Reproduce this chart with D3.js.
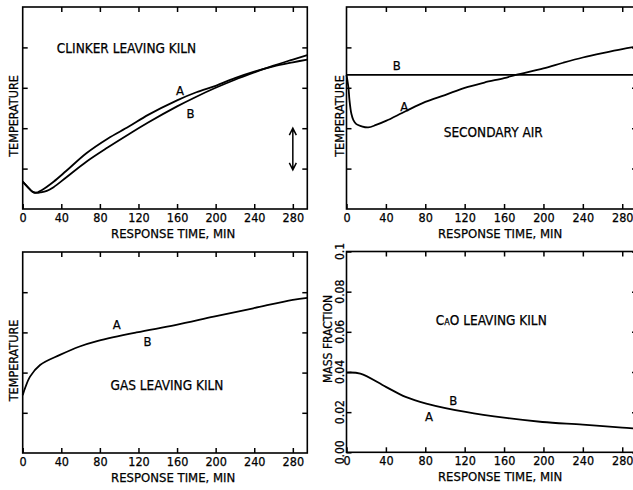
<!DOCTYPE html>
<html>
<head>
<meta charset="utf-8">
<script src="https://cdn.jsdelivr.net/npm/d3@7"></script>
<style>
  body { margin: 0; background: #fff; }
  text { font-family: "DejaVu Sans Condensed", "DejaVu Sans", sans-serif; font-stretch: condensed; fill: #000; stroke: #000; stroke-width: 0.25; }
  .num { font-family: "Liberation Sans Narrow", "DejaVu Sans Condensed", sans-serif; }
</style>
</head>
<body>
<div id="chart"></div>
<script>
// values (temperature panels are in tick units, no numbers shown)
var timeTicks = [0, 40, 80, 120, 160, 200, 240, 280];

var clinkerTimeA = [0, 5, 10, 13, 20, 32, 45, 66, 88, 110, 130, 160, 180, 200, 220, 240, 260, 280, 295];
var clinkerA     = [0.68, 0.55, 0.43, 0.40, 0.47, 0.675, 0.94, 1.38, 1.74, 2.04, 2.33, 2.69, 2.89, 3.05, 3.24, 3.40, 3.53, 3.63, 3.70];
var clinkerTimeB = [0, 5, 10, 15, 18, 25, 32, 45, 66, 88, 110, 130, 160, 180, 200, 220, 240, 260, 280, 295];
var clinkerB     = [0.68, 0.55, 0.43, 0.40, 0.41, 0.45, 0.54, 0.78, 1.17, 1.52, 1.85, 2.14, 2.54, 2.78, 3.00, 3.20, 3.38, 3.55, 3.70, 3.81];

var airTimeA = [0, 2, 3, 5, 7, 10, 15, 22, 30, 40, 60, 80, 100, 120, 140, 160, 172, 200, 220, 240, 260, 280, 295];
var airA     = [3.32, 3.0, 2.7, 2.35, 2.2, 2.10, 2.05, 2.02, 2.08, 2.18, 2.42, 2.65, 2.82, 3.0, 3.13, 3.24, 3.32, 3.48, 3.62, 3.75, 3.86, 3.96, 4.02];
var airTimeB = [0, 295];
var airB     = [3.32, 3.32];

var gasTime = [0, 2.4, 7.6, 18, 38.6, 59, 78, 118, 158, 198, 239, 280, 295];
var gasA    = [1.44, 1.61, 1.90, 2.19, 2.44, 2.65, 2.79, 3.00, 3.18, 3.39, 3.60, 3.81, 3.86];

var caoTime = [0, 14, 40, 60, 81, 121, 162, 199, 240, 280, 295];
var caoA    = [0.0397, 0.0392, 0.0326, 0.0276, 0.0243, 0.0201, 0.0171, 0.0151, 0.0138, 0.0123, 0.0118];
var caoTicks = [0, 0.02, 0.04, 0.06, 0.08, 0.1];
var caoTickLabels = ["0.00", "0.02", "0.04", "0.06", "0.08", "0.1"];

var width = 633, height = 490;

var svg = d3.select("#chart").append("svg")
  .attr("width", width)
  .attr("height", height);

function zip(t, v) { return t.map(function(d, i) { return [d, v[i]]; }); }

var panels = [
  { x0: 22.7, x1: 307.3, y0: 7, y1: 209, ymax: 5, yTicks: [1, 2, 3, 4],
    series: [zip(clinkerTimeA, clinkerA), zip(clinkerTimeB, clinkerB)],
    title: "CLINKER LEAVING KILN", titleAt: [107.6, 3.98],
    labels: [["A", 163, 2.94], ["B", 174, 2.37]], arrow: [280, 2.0, 0.97], yLabel: 13 },
  { x0: 346.5, x1: 637, y0: 7, y1: 209, ymax: 5, yTicks: [1, 2, 3, 4],
    series: [zip(airTimeA, airA), zip(airTimeB, airB)],
    title: "SECONDARY AIR", titleAt: [149, 1.91],
    labels: [["B", 51, 3.55], ["A", 58.7, 2.55]], yLabel: 339 },
  { x0: 22.7, x1: 307.3, y0: 252, y1: 453, ymax: 5, yTicks: [1, 2, 3, 4],
    series: [zip(gasTime, gasA)],
    title: "GAS LEAVING KILN", titleAt: [149.5, 1.69],
    labels: [["A", 97.4, 3.2], ["B", 129.5, 2.77]], yLabel: 13 },
  { x0: 346.5, x1: 637, y0: 251.5, y1: 452.3, ymax: 0.1, yTicks: caoTicks,
    series: [zip(caoTime, caoA)],
    title: "CAO", titleAt: [147, 0.066], cao: true,
    labels: [["B", 108.4, 0.0261], ["A", 83.8, 0.0181]] }
];

panels.forEach(function(p) {
  var x = d3.scaleLinear().domain([0, 295]).range([p.x0, p.x1]);
  var y = d3.scaleLinear().domain([0, p.ymax]).range([p.y1, p.y0]);
  var g = svg.append("g");

  // inward ticks on all four sides
  g.append("g").attr("transform", "translate(0," + p.y1 + ")")
    .call(d3.axisBottom(x).tickValues(timeTicks).tickSize(-5).tickPadding(4).tickFormat(d3.format("d")))
    .call(function(a) {
      a.select(".domain").remove();
      a.selectAll("line").attr("stroke", "#000").attr("stroke-width", 1.5);
      a.selectAll("text").attr("class", "num").attr("font-size", 12.5).attr("fill", "#000");
    });
  g.append("g").attr("transform", "translate(0," + p.y0 + ")")
    .call(d3.axisTop(x).tickValues(timeTicks.slice(1)).tickSize(-5).tickFormat(""))
    .call(function(a) { a.select(".domain").remove(); a.selectAll("line").attr("stroke", "#000").attr("stroke-width", 1.5); });
  g.append("g").attr("transform", "translate(" + p.x0 + ",0)")
    .call(d3.axisLeft(y).tickValues(p.yTicks).tickSize(-5).tickFormat(""))
    .call(function(a) { a.select(".domain").remove(); a.selectAll("line").attr("stroke", "#000").attr("stroke-width", 1.5); });
  g.append("g").attr("transform", "translate(" + p.x1 + ",0)")
    .call(d3.axisRight(y).tickValues(p.yTicks).tickSize(-5).tickFormat(""))
    .call(function(a) { a.select(".domain").remove(); a.selectAll("line").attr("stroke", "#000").attr("stroke-width", 1.5); });

  g.append("rect")
    .attr("x", p.x0).attr("y", p.y0)
    .attr("width", p.x1 - p.x0).attr("height", p.y1 - p.y0)
    .attr("fill", "none").attr("stroke", "#000").attr("stroke-width", 1.6);

  var line = d3.line()
    .x(function(d) { return x(d[0]); })
    .y(function(d) { return y(d[1]); })
    .curve(d3.curveCatmullRom.alpha(0.5));

  g.selectAll(".curve").data(p.series).enter().append("path")
    .attr("class", "curve")
    .attr("d", line)
    .attr("fill", "none").attr("stroke", "#000").attr("stroke-width", 1.8);

  g.selectAll(".lab").data(p.labels).enter().append("text")
    .attr("class", "lab")
    .attr("x", function(d) { return x(d[1]); })
    .attr("y", function(d) { return y(d[2]); })
    .attr("dy", "0.36em")
    .attr("text-anchor", "middle")
    .attr("font-size", 13)
    .text(function(d) { return d[0]; });

  var title = g.append("text")
    .attr("x", x(p.titleAt[0])).attr("y", y(p.titleAt[1]))
    .attr("dy", "0.36em").attr("text-anchor", "middle")
    .attr("font-size", 13.5);
  if (p.cao) {
    title.append("tspan").text("C");
    title.append("tspan").attr("font-size", 9).text("A");
    title.append("tspan").text("O LEAVING KILN");
  } else {
    title.text(p.title);
  }

  g.append("text")
    .attr("x", x(156)).attr("y", p.y1 + 24)
    .attr("dy", "0.36em").attr("text-anchor", "middle")
    .attr("font-size", 13)
    .text("RESPONSE TIME, MIN");

  if (p.yLabel) {
    g.append("text")
      .attr("transform", "translate(" + p.yLabel + "," + ((p.y0 + p.y1) / 2 + 8) + ") rotate(-90)")
      .attr("dy", "0.36em").attr("text-anchor", "middle")
      .attr("font-size", 12.5)
      .text("TEMPERATURE");
  }

  if (p.cao) {
    g.selectAll(".ylab").data(caoTicks).enter().append("text")
      .attr("class", "num")
      .attr("transform", function(d) { return "translate(339.5," + y(d) + ") rotate(-90)"; })
      .attr("dy", "0.36em").attr("text-anchor", "middle")
      .attr("font-size", 12)
      .text(function(d, i) { return caoTickLabels[i]; });
    g.append("text")
      .attr("transform", "translate(327.5," + ((p.y0 + p.y1) / 2 - 13) + ") rotate(-90)")
      .attr("dy", "0.36em").attr("text-anchor", "middle")
      .attr("font-size", 12)
      .text("MASS FRACTION");
  }

  if (p.arrow) {
    var ax = x(p.arrow[0]), ya = y(p.arrow[1]), yb = y(p.arrow[2]);
    g.append("path")
      .attr("d", "M" + ax + "," + ya + "V" + yb +
        "M" + (ax - 3.5) + "," + (ya + 7) + "L" + ax + "," + ya + "L" + (ax + 3.5) + "," + (ya + 7) +
        "M" + (ax - 3.5) + "," + (yb - 7) + "L" + ax + "," + yb + "L" + (ax + 3.5) + "," + (yb - 7))
      .attr("fill", "none").attr("stroke", "#000").attr("stroke-width", 1.5);
  }
});
</script>
</body>
</html>
